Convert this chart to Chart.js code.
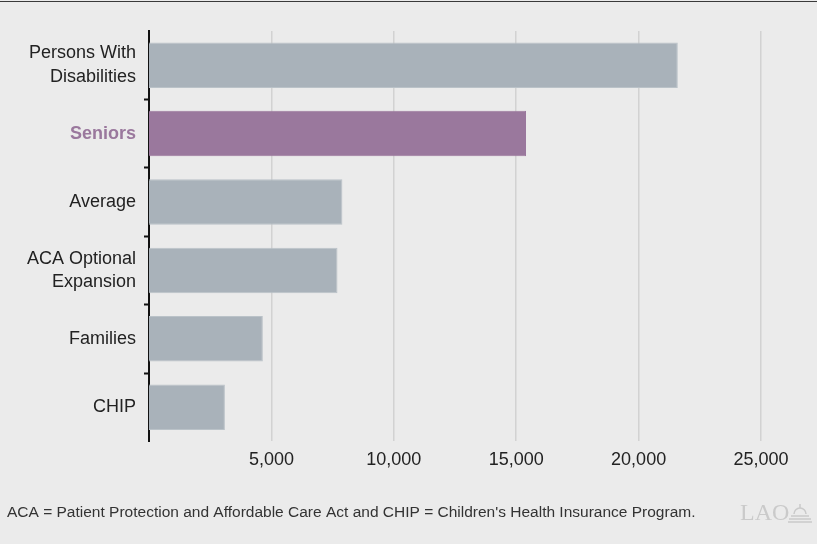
<!DOCTYPE html>
<html>
<head>
<meta charset="utf-8">
<script src="https://cdn.jsdelivr.net/npm/chart.js@4/dist/chart.umd.min.js"></script>
<style>
  html, body { margin: 0; padding: 0; background: #ebebeb; }
  .wrap { position: relative; width: 817px; height: 544px; }
  .wrap::before { content: ""; position: absolute; left: 0; right: 0; top: 1px; height: 0; border-top: 1.5px solid #3a3a3a; }
</style>
</head>
<body>
<div class="wrap"><canvas id="costChart" width="817" height="544"></canvas></div>
<script>
const categories = [
  ["Persons With", "Disabilities"],
  "Seniors",
  "Average",
  ["ACA Optional", "Expansion"],
  "Families",
  "CHIP",
];
const costPerEnrollee = [21600, 15400, 7900, 7700, 4650, 3100];
const xTicks = [5000, 10000, 15000, 20000, 25000];
const highlightIndex = 1;
const footnote = "ACA = Patient Protection and Affordable Care Act and CHIP = Children's Health Insurance Program.";

const GRAY = "#a9b2ba";
const PURPLE = "#9a789d";
const FONT = "'Liberation Sans', Arial, Helvetica, sans-serif";

// footnote and LAO mark under the plot
const footerPlugin = {
  id: "footer",
  afterDraw(chart) {
    const ctx = chart.ctx;
    ctx.save();
    ctx.fillStyle = "#333";
    ctx.font = `15.5px ${FONT}`;
    ctx.textBaseline = "middle";
    ctx.textAlign = "left";
    ctx.fillText(footnote, 7, 513);

    ctx.fillStyle = "#cacaca";
    ctx.font = "24px 'Liberation Serif', 'DejaVu Serif', serif";
    ctx.fillText("LAO", 740, 514);

    // little capitol dome
    ctx.strokeStyle = "#cacaca";
    ctx.lineWidth = 1.5;
    ctx.beginPath();
    ctx.arc(800, 514, 6, Math.PI, 0);
    ctx.stroke();
    ctx.beginPath();
    ctx.moveTo(800, 504); ctx.lineTo(800, 508);
    ctx.moveTo(791, 516); ctx.lineTo(809, 516);
    ctx.moveTo(789, 519); ctx.lineTo(811, 519);
    ctx.moveTo(788, 522); ctx.lineTo(812, 522);
    ctx.stroke();
    ctx.restore();
  },
};

new Chart(document.getElementById("costChart"), {
  type: "bar",
  data: {
    labels: categories,
    datasets: [{
      data: costPerEnrollee,
      backgroundColor: costPerEnrollee.map((_, i) => i === highlightIndex ? PURPLE : GRAY),
      borderColor: costPerEnrollee.map((_, i) => i === highlightIndex ? PURPLE : "#bac2c8"),
      borderWidth: 1,
      borderSkipped: "start",
      barPercentage: 0.665,
      categoryPercentage: 1,
    }],
  },
  options: {
    indexAxis: "y",
    responsive: false,
    animation: false,
    layout: { padding: { top: 31, right: 7, bottom: 65, left: 0 } },
    plugins: {
      legend: { display: false },
      tooltip: { enabled: false },
    },
    scales: {
      x: {
        min: 0,
        max: 27000,
        afterBuildTicks(scale) {
          scale.ticks = xTicks.map(v => ({ value: v }));
        },
        border: { display: false },
        grid: { color: "#d2d2d2", lineWidth: 1.5, drawTicks: false },
        ticks: {
          padding: 8,
          color: "#222",
          font: { family: FONT, size: 18 },
          callback: v => v.toLocaleString("en-US"),
        },
      },
      y: {
        afterFit(scale) { scale.width = 149; },
        border: { display: true, color: "#111", width: 2 },
        grid: {
          drawOnChartArea: false,
          drawTicks: true,
          tickLength: 5,
          tickWidth: 2,
          // no tick marks at the two ends of the axis
          tickColor: c => (c.index === undefined || c.index === 0) ? "rgba(0,0,0,0)" : "#111",
        },
        ticks: {
          padding: 8,
          color: c => c.index === highlightIndex ? PURPLE : "#222",
          font: c => ({ family: FONT, size: 18, weight: c.index === highlightIndex ? "bold" : "normal", lineHeight: 1.3 }),
        },
      },
    },
  },
  plugins: [footerPlugin],
});
</script>
</body>
</html>
